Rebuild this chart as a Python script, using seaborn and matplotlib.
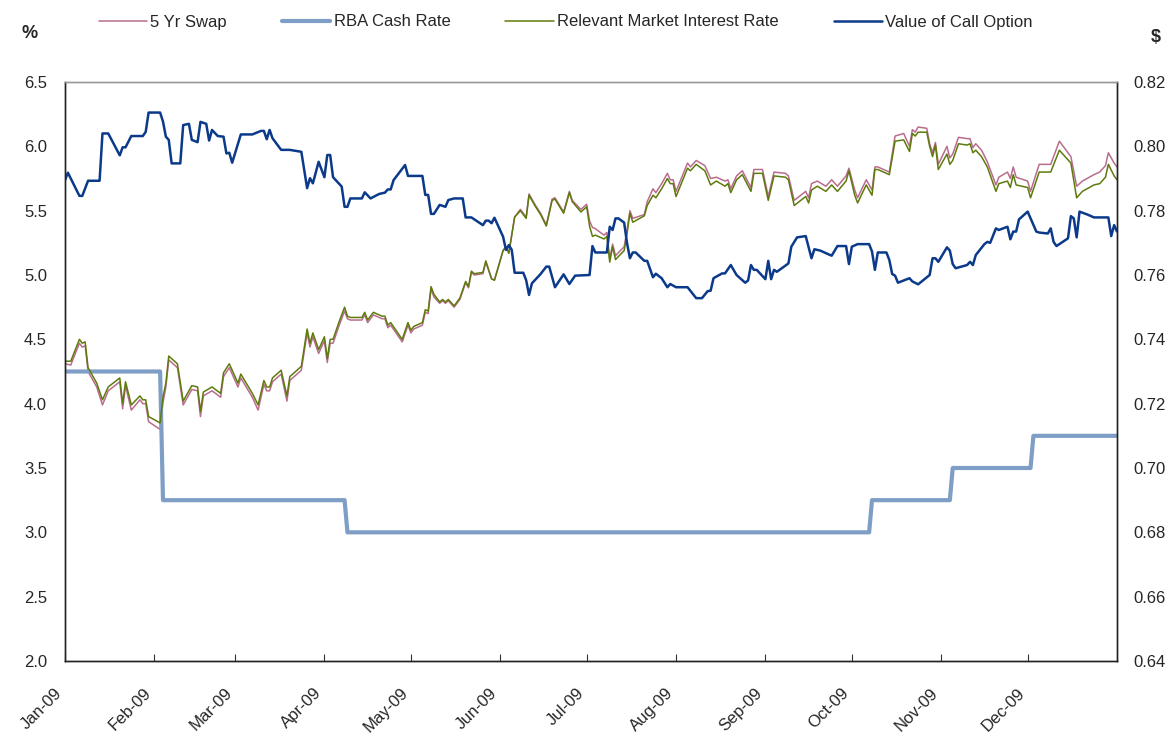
import pandas as pd
import matplotlib
matplotlib.use('Agg')
import matplotlib.pyplot as plt
import matplotlib.dates as mdates
import seaborn as sns

# days counted from 1 Jan 2009
rate_day = [0, 2, 5, 6, 7, 8, 11, 13, 15, 19,
            20, 21, 23, 26, 27, 28, 29, 33, 34, 35,
            36, 39, 41, 44, 46, 47, 48, 51, 54, 55,
            57, 60, 61, 65, 67, 69, 70, 71, 72, 75,
            77, 78, 82, 84, 85, 86, 88, 90, 91, 92,
            93, 95, 97, 98, 99, 103, 104, 105, 107, 110,
            111, 112, 113, 117, 119, 120, 121, 124, 125, 126,
            127, 128, 130, 131, 132, 133, 135, 137, 139, 140,
            141, 142, 145, 146, 148, 149, 152, 153, 154, 156,
            158, 160, 161, 163, 165, 167, 169, 170, 173, 175,
            176, 179, 181, 182, 183, 184, 187, 188, 189, 190,
            191, 194, 195, 196, 197, 201, 202, 204, 205, 207,
            209, 210, 211, 212, 216, 217, 219, 222, 224, 226,
            229, 230, 231, 233, 235, 238, 239, 242, 244, 246,
            250, 251, 253, 257, 258, 259, 261, 264, 266, 268,
            271, 272, 274, 275, 278, 280, 281, 282, 286, 288,
            291, 293, 294, 295, 296, 299, 300, 301, 302, 303,
            306, 307, 308, 310, 313, 314, 315, 316, 318, 320,
            323, 324, 327, 328, 329, 330, 334, 335, 338, 342,
            345, 349, 351, 353, 357, 359, 361, 362, 364, 365]

swap_5yr = [4.31, 4.30, 4.47, 4.44, 4.45, 4.25, 4.13, 3.99, 4.10, 4.17,
            3.96, 4.14, 3.95, 4.03, 4.00, 4.00, 3.86, 3.80, 4.01, 4.13,
            4.34, 4.28, 3.99, 4.11, 4.10, 3.90, 4.06, 4.10, 4.05, 4.21,
            4.28, 4.13, 4.20, 4.05, 3.95, 4.15, 4.10, 4.10, 4.17, 4.23,
            4.02, 4.18, 4.26, 4.55, 4.44, 4.52, 4.39, 4.49, 4.32, 4.47,
            4.47, 4.60, 4.72, 4.66, 4.65, 4.65, 4.69, 4.63, 4.69, 4.66,
            4.66, 4.59, 4.61, 4.48, 4.61, 4.55, 4.58, 4.61, 4.71, 4.70,
            4.89, 4.83, 4.78, 4.80, 4.78, 4.80, 4.75, 4.81, 4.94, 4.90,
            5.02, 5.00, 5.01, 5.10, 4.97, 4.96, 5.19, 5.22, 5.17, 5.45,
            5.51, 5.45, 5.63, 5.55, 5.48, 5.39, 5.59, 5.60, 5.49, 5.65,
            5.58, 5.51, 5.55, 5.42, 5.37, 5.36, 5.31, 5.33, 5.13, 5.24,
            5.15, 5.22, 5.35, 5.50, 5.44, 5.47, 5.57, 5.67, 5.64, 5.71,
            5.79, 5.74, 5.74, 5.65, 5.87, 5.84, 5.89, 5.85, 5.75, 5.76,
            5.73, 5.74, 5.67, 5.77, 5.81, 5.68, 5.82, 5.82, 5.61, 5.80,
            5.79, 5.77, 5.58, 5.65, 5.60, 5.71, 5.73, 5.69, 5.74, 5.69,
            5.77, 5.83, 5.66, 5.60, 5.74, 5.66, 5.84, 5.84, 5.80, 6.08,
            6.10, 6.00, 6.13, 6.11, 6.15, 6.14, 6.02, 5.95, 6.03, 5.86,
            6.00, 5.91, 5.94, 6.07, 6.06, 6.06, 5.99, 6.02, 5.97, 5.88,
            5.70, 5.76, 5.80, 5.75, 5.84, 5.76, 5.73, 5.65, 5.86, 5.86,
            6.04, 5.92, 5.69, 5.73, 5.78, 5.80, 5.85, 5.95, 5.87, 5.84]

market_rate = [4.33, 4.33, 4.50, 4.47, 4.48, 4.28, 4.16, 4.03, 4.13, 4.20,
               4.00, 4.17, 3.99, 4.06, 4.03, 4.03, 3.90, 3.85, 4.05, 4.16,
               4.37, 4.31, 4.02, 4.14, 4.13, 3.94, 4.09, 4.13, 4.08, 4.24,
               4.31, 4.16, 4.23, 4.08, 3.99, 4.18, 4.13, 4.13, 4.20, 4.26,
               4.06, 4.21, 4.29, 4.58, 4.47, 4.55, 4.42, 4.52, 4.35, 4.50,
               4.50, 4.63, 4.75, 4.68, 4.67, 4.67, 4.71, 4.65, 4.71, 4.68,
               4.68, 4.61, 4.63, 4.50, 4.63, 4.57, 4.60, 4.63, 4.73, 4.72,
               4.91, 4.85, 4.79, 4.81, 4.79, 4.81, 4.76, 4.82, 4.95, 4.91,
               5.03, 5.01, 5.02, 5.11, 4.97, 4.96, 5.19, 5.22, 5.17, 5.45,
               5.50, 5.44, 5.62, 5.54, 5.47, 5.38, 5.58, 5.59, 5.48, 5.64,
               5.57, 5.49, 5.53, 5.38, 5.30, 5.31, 5.28, 5.30, 5.10, 5.22,
               5.12, 5.19, 5.32, 5.48, 5.41, 5.46, 5.54, 5.62, 5.60, 5.67,
               5.75, 5.71, 5.71, 5.61, 5.83, 5.81, 5.86, 5.81, 5.70, 5.73,
               5.69, 5.71, 5.64, 5.74, 5.78, 5.65, 5.79, 5.79, 5.58, 5.77,
               5.76, 5.74, 5.54, 5.61, 5.56, 5.66, 5.69, 5.65, 5.70, 5.65,
               5.73, 5.81, 5.62, 5.56, 5.70, 5.62, 5.82, 5.82, 5.78, 6.04,
               6.05, 5.96, 6.10, 6.08, 6.11, 6.11, 6.00, 5.92, 6.01, 5.82,
               5.94, 5.86, 5.89, 6.02, 6.01, 6.02, 5.95, 5.97, 5.92, 5.84,
               5.65, 5.71, 5.73, 5.68, 5.78, 5.70, 5.68, 5.60, 5.80, 5.80,
               5.97, 5.87, 5.60, 5.65, 5.70, 5.71, 5.76, 5.86, 5.77, 5.74]

rba_day = [0, 33, 34, 97, 98, 279, 280, 307, 308, 335, 336, 365]
rba_cash = [4.25, 4.25, 3.25, 3.25, 3.00, 3.00, 3.25, 3.25, 3.50, 3.50, 3.75, 3.75]

call_day = [0, 1, 5, 6, 8, 12, 13, 15, 19, 20,
            21, 23, 27, 28, 29, 33, 34, 35, 36, 37,
            40, 41, 43, 44, 46, 47, 49, 50, 51, 53,
            55, 56, 57, 58, 61, 65, 68, 69, 70, 71,
            72, 75, 78, 82, 84, 85, 86, 88, 90, 91,
            92, 93, 96, 97, 98, 99, 103, 104, 106, 109,
            111, 112, 113, 114, 118, 119, 124, 125, 126, 127,
            128, 130, 132, 133, 135, 138, 139, 141, 145, 146,
            147, 148, 149, 152, 153, 154, 155, 156, 159, 160,
            161, 162, 165, 167, 168, 170, 173, 175, 177, 182,
            183, 184, 188, 189, 190, 191, 192, 194, 195, 196,
            197, 198, 201, 202, 204, 205, 207, 208, 209, 210,
            212, 216, 219, 221, 223, 224, 225, 228, 229, 231,
            233, 236, 237, 238, 239, 240, 243, 244, 245, 246,
            247, 251, 252, 254, 257, 259, 260, 262, 266, 268,
            271, 272, 273, 275, 279, 280, 281, 282, 285, 286,
            287, 288, 289, 293, 294, 296, 300, 301, 302, 303,
            306, 307, 308, 309, 313, 314, 315, 316, 319, 320,
            321, 323, 324, 327, 328, 329, 330, 331, 334, 337,
            338, 341, 342, 343, 344, 348, 349, 350, 351, 352,
            355, 357, 362, 363, 364, 365]

call_value = [0.7895, 0.7918, 0.7846, 0.7846, 0.7893, 0.7893, 0.8040, 0.8040, 0.7972, 0.7997,
              0.7997, 0.8032, 0.8032, 0.8045, 0.8105, 0.8105, 0.8077, 0.8030, 0.8020, 0.7947,
              0.7947, 0.8066, 0.8070, 0.8020, 0.8013, 0.8076, 0.8070, 0.8018, 0.8051, 0.8032,
              0.8030, 0.7978, 0.7980, 0.7949, 0.8037, 0.8037, 0.8048, 0.8048, 0.8022, 0.8051,
              0.8025, 0.7989, 0.7989, 0.7983, 0.7870, 0.7901, 0.7885, 0.7952, 0.7904, 0.7973,
              0.7973, 0.7904, 0.7875, 0.7812, 0.7812, 0.7838, 0.7838, 0.7857, 0.7838, 0.7852,
              0.7856, 0.7866, 0.7866, 0.7895, 0.7942, 0.7908, 0.7908, 0.7849, 0.7849, 0.7790,
              0.7790, 0.7818, 0.7812, 0.7833, 0.7838, 0.7838, 0.7779, 0.7779, 0.7755, 0.7769,
              0.7769, 0.7761, 0.7778, 0.7719, 0.7678, 0.7693, 0.7678, 0.7607, 0.7607, 0.7584,
              0.7538, 0.7574, 0.7603, 0.7626, 0.7626, 0.7562, 0.7602, 0.7572, 0.7598, 0.7600,
              0.7690, 0.7670, 0.7670, 0.7750, 0.7740, 0.7776, 0.7776, 0.7763, 0.7699, 0.7652,
              0.7670, 0.7670, 0.7644, 0.7644, 0.7593, 0.7604, 0.7590, 0.7576, 0.7562, 0.7572,
              0.7562, 0.7562, 0.7528, 0.7528, 0.7550, 0.7551, 0.7590, 0.7605, 0.7605, 0.7631,
              0.7600, 0.7576, 0.7583, 0.7631, 0.7616, 0.7616, 0.7587, 0.7644, 0.7587, 0.7616,
              0.7610, 0.7636, 0.7688, 0.7717, 0.7721, 0.7652, 0.7680, 0.7676, 0.7660, 0.7690,
              0.7690, 0.7634, 0.7688, 0.7696, 0.7696, 0.7673, 0.7616, 0.7670, 0.7670, 0.7647,
              0.7603, 0.7598, 0.7576, 0.7590, 0.7580, 0.7571, 0.7600, 0.7652, 0.7652, 0.7641,
              0.7686, 0.7676, 0.7634, 0.7621, 0.7631, 0.7641, 0.7631, 0.7662, 0.7696, 0.7703,
              0.7700, 0.7745, 0.7740, 0.7750, 0.7711, 0.7735, 0.7735, 0.7773, 0.7797, 0.7735,
              0.7732, 0.7729, 0.7745, 0.7703, 0.7690, 0.7714, 0.7783, 0.7776, 0.7717, 0.7797,
              0.7787, 0.7779, 0.7779, 0.7721, 0.7755, 0.7735]

start = pd.Timestamp('2009-01-01')
rates = pd.DataFrame({'date': start + pd.to_timedelta(rate_day, unit='D'),
                      'swap': swap_5yr, 'market': market_rate})
rba = pd.DataFrame({'date': start + pd.to_timedelta(rba_day, unit='D'), 'cash': rba_cash})
call = pd.DataFrame({'date': start + pd.to_timedelta(call_day, unit='D'), 'value': call_value})

sns.set_theme(style='white')
plt.rcParams['font.family'] = ['Liberation Sans', 'DejaVu Sans']

pink = '#B96D8E'
steel = '#7F9EC5'
olive = '#5F7A0C'
navy = '#0B3A8B'

fig = plt.figure(figsize=(11.74, 7.33), dpi=100)
ax = fig.add_axes([65 / 1174, 1 - 661 / 733, (1117 - 65) / 1174, (661 - 82) / 733])
ax2 = ax.twinx()

sns.lineplot(data=rates, x='date', y='swap', ax=ax, color=pink, lw=1.1, label='5 Yr Swap', legend=False)
sns.lineplot(data=rba, x='date', y='cash', ax=ax, color=steel, lw=3.0, label='RBA Cash Rate', legend=False)
sns.lineplot(data=rates, x='date', y='market', ax=ax, color=olive, lw=1.1,
             label='Relevant Market Interest Rate', legend=False)
sns.lineplot(data=call, x='date', y='value', ax=ax2, color=navy, lw=1.8,
             label='Value of Call Option', legend=False)

ax.set_xlim(start, pd.Timestamp('2010-01-01'))
ax.set_ylim(2.0, 6.5)
ax2.set_ylim(0.64, 0.82)
ax.set_yticks([2.0, 2.5, 3.0, 3.5, 4.0, 4.5, 5.0, 5.5, 6.0, 6.5])
ax2.set_yticks([0.64, 0.66, 0.68, 0.70, 0.72, 0.74, 0.76, 0.78, 0.80, 0.82])
ax.yaxis.set_major_formatter(matplotlib.ticker.FormatStrFormatter('%.1f'))
ax2.yaxis.set_major_formatter(matplotlib.ticker.FormatStrFormatter('%.2f'))
ax.set_xlabel('')
ax.set_ylabel('')
ax2.set_ylabel('')

ax.set_xticks(pd.date_range('2009-01-01', '2009-12-01', freq='MS'))
ax.xaxis.set_major_formatter(mdates.DateFormatter('%b-%y'))
ax.tick_params(axis='x', direction='in', length=5, width=0.8, color='#333333',
               labelsize=12, pad=25, bottom=True)
ax.tick_params(axis='y', length=0, labelsize=12, pad=13)
ax2.tick_params(axis='y', length=0, labelsize=12, pad=12)
for lab in ax.get_xticklabels():
    lab.set_rotation(45)
    lab.set_ha('right')
    lab.set_va('bottom')
    lab.set_rotation_mode('anchor')

for a in (ax, ax2):
    for side in ('left', 'right', 'bottom'):
        a.spines[side].set_color('#222222')
        a.spines[side].set_linewidth(1.0)
    a.spines['top'].set_color('#999999')
    a.spines['top'].set_linewidth(1.0)
    a.grid(False)

fig.text(30 / 1174, 1 - 34 / 733, '%', fontsize=13, fontweight='bold', ha='center', va='center')
fig.text(1156 / 1174, 1 - 37 / 733, '$', fontsize=13, fontweight='bold', ha='center', va='center')

h1, l1 = ax.get_legend_handles_labels()
h2, l2 = ax2.get_legend_handles_labels()
fig.legend(h1 + h2, l1 + l2, loc='center',
           bbox_to_anchor=(0.482, 1 - 22 / 733), ncol=4, frameon=False, fontsize=12,
           handlelength=2.9, handletextpad=0.2, columnspacing=3.3)

fig.savefig('out.png', dpi=100)
